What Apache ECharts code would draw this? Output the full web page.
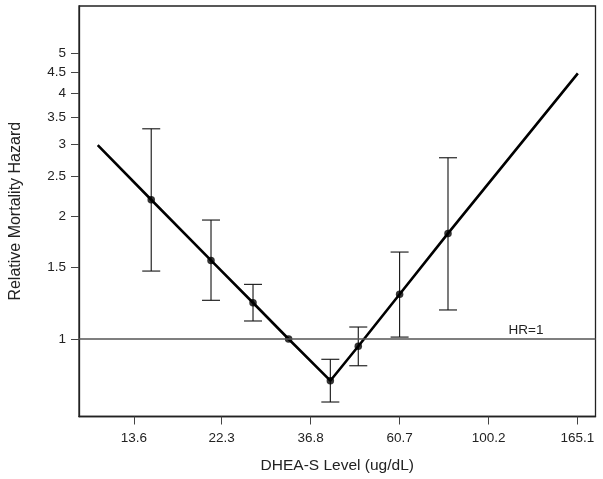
<!DOCTYPE html>
<html>
<head>
<meta charset="utf-8">
<script src="https://cdn.jsdelivr.net/npm/echarts@6/dist/echarts.min.js"></script>
<style>
html,body{margin:0;padding:0;background:#fff;}
#chart{width:603px;height:479px;}
</style>
</head>
<body>
<div id="chart"></div>
<script>
// Tick labels
const xTickLabels = [13.6, 22.3, 36.8, 60.7, 100.2, 165.1];
const yTickLabels = [1, 1.5, 2, 2.5, 3, 3.5, 4, 4.5, 5];

// Fitted curve (DHEA-S level, hazard ratio)
const curveDhea = [11.1, 15.0, 21.0, 26.6, 32.5, 41.1, 48.1, 60.7, 79.7, 165.5];
const curveHR   = [2.985, 2.193, 1.558, 1.227, 1.0, 0.7905, 0.960, 1.287, 1.814, 4.471];

// Estimated points with confidence intervals
const pointDhea = [15.0, 21.0, 26.6, 32.5, 41.1, 48.1, 60.7, 79.7];
const pointHR   = [2.193, 1.558, 1.227, 1.0, 0.7905, 0.960, 1.287, 1.814];
const ciLow     = [1.467, 1.244, 1.107, null, 0.701, 0.860, 1.011, 1.178];
const ciHigh    = [3.272, 1.956, 1.361, null, 0.892, 1.070, 1.633, 2.779];

const ln = Math.log;
const FONT = 'Liberation Sans, Arial, Helvetica, sans-serif';

const curveData = curveDhea.map((d, i) => [ln(d), ln(curveHR[i])]);
const pointData = pointDhea.map((d, i) => [ln(d), ln(pointHR[i])]);
const ciData = [];
pointDhea.forEach((d, i) => {
  if (ciLow[i] != null) ciData.push([ln(d), ln(ciLow[i]), ln(ciHigh[i])]);
});

const xLn = xTickLabels.map(v => ln(v));
const yLn = yTickLabels.map(v => ln(v));
function nearestLabel(arr, lnArr, v) {
  let best = 0;
  for (let i = 1; i < lnArr.length; i++) if (Math.abs(lnArr[i] - v) < Math.abs(lnArr[best] - v)) best = i;
  return String(arr[best]);
}

const chart = echarts.init(document.getElementById('chart'), null, {renderer: 'canvas'});
chart.setOption({
  animation: false,
  backgroundColor: '#fff',
  grid: {left: 75.5, top: 6, right: 7.5, bottom: 62.5, show: true, borderColor: '#222', borderWidth: 1.3, containLabel: false},
  xAxis: {
    type: 'value',
    min: ln(9.99), max: ln(182.8),
    name: 'DHEA-S Level (ug/dL)',
    nameLocation: 'middle',
    nameGap: 41,
    nameTextStyle: {fontFamily: FONT, fontSize: 15.5, color: '#222'},
    axisLine: {show: true, onZero: false, lineStyle: {color: '#222', width: 1.3}},
    axisTick: {show: true, length: 8, customValues: xLn, lineStyle: {color: '#444', width: 1}},
    axisLabel: {show: true, customValues: xLn, margin: 15, fontFamily: FONT, fontSize: 13.5, color: '#222',
      formatter: v => nearestLabel(xTickLabels, xLn, v)},
    splitLine: {show: false}
  },
  yAxis: {
    type: 'value',
    min: ln(0.646), max: ln(6.54),
    name: 'Relative Mortality Hazard',
    nameLocation: 'middle',
    nameGap: 55,
    nameTextStyle: {fontFamily: FONT, fontSize: 16, color: '#222'},
    axisLine: {show: true, onZero: false, lineStyle: {color: '#222', width: 1.3}},
    axisTick: {show: true, length: 8, customValues: yLn, lineStyle: {color: '#444', width: 1}},
    axisLabel: {show: true, customValues: yLn, margin: 13, fontFamily: FONT, fontSize: 13.5, color: '#222',
      formatter: v => nearestLabel(yTickLabels, yLn, v)},
    splitLine: {show: false}
  },
  series: [
    {
      type: 'custom',
      data: ciData,
      z: 2,
      renderItem: function (params, api) {
        const x = api.value(0);
        const lo = api.coord([x, api.value(1)]);
        const hi = api.coord([x, api.value(2)]);
        const hw = 9;
        const style = {stroke: '#111', lineWidth: 1.1};
        return {
          type: 'group',
          children: [
            {type: 'line', shape: {x1: lo[0], y1: lo[1], x2: hi[0], y2: hi[1]}, style: style},
            {type: 'line', shape: {x1: lo[0] - hw, y1: lo[1], x2: lo[0] + hw, y2: lo[1]}, style: style},
            {type: 'line', shape: {x1: hi[0] - hw, y1: hi[1], x2: hi[0] + hw, y2: hi[1]}, style: style}
          ]
        };
      }
    },
    {
      type: 'line',
      data: curveData,
      symbol: 'none',
      lineStyle: {color: '#000', width: 2.6},
      z: 3,
      markLine: {
        silent: true,
        symbol: 'none',
        lineStyle: {color: '#555', width: 1.5, type: 'solid'},
        label: {show: true, formatter: 'HR=1', position: 'insideEndTop', distance: [52, 2],
          fontFamily: FONT, fontSize: 13.5, color: '#222'},
        data: [{yAxis: 0}]
      }
    },
    {
      type: 'scatter',
      data: pointData,
      symbol: 'circle',
      symbolSize: 7.5,
      itemStyle: {color: '#000'},
      z: 4
    }
  ]
});
</script>
</body>
</html>
